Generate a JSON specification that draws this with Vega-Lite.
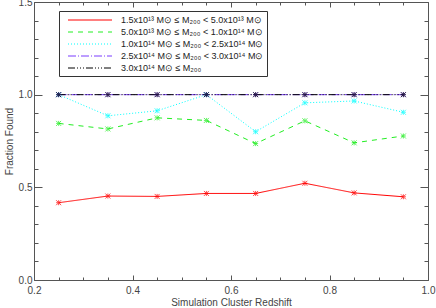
{
  "$schema": "https://vega.github.io/schema/vega-lite/v6.json",
  "width": 394,
  "height": 278,
  "autosize": "none",
  "padding": {"left": 34, "top": 2, "right": 8, "bottom": 28},
  "background": "white",
  "config": {
    "view": {"stroke": null},
    "font": "Liberation Sans",
    "axis": {
      "domainColor": "#555",
      "tickColor": "#555",
      "labelColor": "#444",
      "titleColor": "#444",
      "labelFont": "Liberation Sans",
      "titleFont": "Liberation Sans",
      "labelFontSize": 10,
      "titleFontSize": 10,
      "titleFontWeight": "normal",
      "grid": false
    }
  },
  "data": {
    "values": [
      {"z": 0.25, "frac": 0.417, "bin": "1.5x10¹³ M⊙ ≤ M₂₀₀ < 5.0x10¹³ M⊙"},
      {"z": 0.35, "frac": 0.453, "bin": "1.5x10¹³ M⊙ ≤ M₂₀₀ < 5.0x10¹³ M⊙"},
      {"z": 0.45, "frac": 0.451, "bin": "1.5x10¹³ M⊙ ≤ M₂₀₀ < 5.0x10¹³ M⊙"},
      {"z": 0.55, "frac": 0.467, "bin": "1.5x10¹³ M⊙ ≤ M₂₀₀ < 5.0x10¹³ M⊙"},
      {"z": 0.65, "frac": 0.467, "bin": "1.5x10¹³ M⊙ ≤ M₂₀₀ < 5.0x10¹³ M⊙"},
      {"z": 0.75, "frac": 0.522, "bin": "1.5x10¹³ M⊙ ≤ M₂₀₀ < 5.0x10¹³ M⊙"},
      {"z": 0.85, "frac": 0.47, "bin": "1.5x10¹³ M⊙ ≤ M₂₀₀ < 5.0x10¹³ M⊙"},
      {"z": 0.95, "frac": 0.449, "bin": "1.5x10¹³ M⊙ ≤ M₂₀₀ < 5.0x10¹³ M⊙"},
      {"z": 0.25, "frac": 0.845, "bin": "5.0x10¹³ M⊙ ≤ M₂₀₀ < 1.0x10¹⁴ M⊙"},
      {"z": 0.35, "frac": 0.815, "bin": "5.0x10¹³ M⊙ ≤ M₂₀₀ < 1.0x10¹⁴ M⊙"},
      {"z": 0.45, "frac": 0.875, "bin": "5.0x10¹³ M⊙ ≤ M₂₀₀ < 1.0x10¹⁴ M⊙"},
      {"z": 0.55, "frac": 0.861, "bin": "5.0x10¹³ M⊙ ≤ M₂₀₀ < 1.0x10¹⁴ M⊙"},
      {"z": 0.65, "frac": 0.736, "bin": "5.0x10¹³ M⊙ ≤ M₂₀₀ < 1.0x10¹⁴ M⊙"},
      {"z": 0.75, "frac": 0.859, "bin": "5.0x10¹³ M⊙ ≤ M₂₀₀ < 1.0x10¹⁴ M⊙"},
      {"z": 0.85, "frac": 0.74, "bin": "5.0x10¹³ M⊙ ≤ M₂₀₀ < 1.0x10¹⁴ M⊙"},
      {"z": 0.95, "frac": 0.777, "bin": "5.0x10¹³ M⊙ ≤ M₂₀₀ < 1.0x10¹⁴ M⊙"},
      {"z": 0.25, "frac": 1.0, "bin": "1.0x10¹⁴ M⊙ ≤ M₂₀₀ < 2.5x10¹⁴ M⊙"},
      {"z": 0.35, "frac": 0.886, "bin": "1.0x10¹⁴ M⊙ ≤ M₂₀₀ < 2.5x10¹⁴ M⊙"},
      {"z": 0.45, "frac": 0.913, "bin": "1.0x10¹⁴ M⊙ ≤ M₂₀₀ < 2.5x10¹⁴ M⊙"},
      {"z": 0.55, "frac": 1.0, "bin": "1.0x10¹⁴ M⊙ ≤ M₂₀₀ < 2.5x10¹⁴ M⊙"},
      {"z": 0.65, "frac": 0.8, "bin": "1.0x10¹⁴ M⊙ ≤ M₂₀₀ < 2.5x10¹⁴ M⊙"},
      {"z": 0.75, "frac": 0.956, "bin": "1.0x10¹⁴ M⊙ ≤ M₂₀₀ < 2.5x10¹⁴ M⊙"},
      {"z": 0.85, "frac": 0.966, "bin": "1.0x10¹⁴ M⊙ ≤ M₂₀₀ < 2.5x10¹⁴ M⊙"},
      {"z": 0.95, "frac": 0.905, "bin": "1.0x10¹⁴ M⊙ ≤ M₂₀₀ < 2.5x10¹⁴ M⊙"},
      {"z": 0.25, "frac": 1.0, "bin": "2.5x10¹⁴ M⊙ ≤ M₂₀₀ < 3.0x10¹⁴ M⊙"},
      {"z": 0.35, "frac": 1.0, "bin": "2.5x10¹⁴ M⊙ ≤ M₂₀₀ < 3.0x10¹⁴ M⊙"},
      {"z": 0.45, "frac": 1.0, "bin": "2.5x10¹⁴ M⊙ ≤ M₂₀₀ < 3.0x10¹⁴ M⊙"},
      {"z": 0.55, "frac": 1.0, "bin": "2.5x10¹⁴ M⊙ ≤ M₂₀₀ < 3.0x10¹⁴ M⊙"},
      {"z": 0.65, "frac": 1.0, "bin": "2.5x10¹⁴ M⊙ ≤ M₂₀₀ < 3.0x10¹⁴ M⊙"},
      {"z": 0.75, "frac": 1.0, "bin": "2.5x10¹⁴ M⊙ ≤ M₂₀₀ < 3.0x10¹⁴ M⊙"},
      {"z": 0.85, "frac": 1.0, "bin": "2.5x10¹⁴ M⊙ ≤ M₂₀₀ < 3.0x10¹⁴ M⊙"},
      {"z": 0.95, "frac": 1.0, "bin": "2.5x10¹⁴ M⊙ ≤ M₂₀₀ < 3.0x10¹⁴ M⊙"},
      {"z": 0.25, "frac": 1.0, "bin": "3.0x10¹⁴ M⊙ ≤ M₂₀₀"},
      {"z": 0.35, "frac": 1.0, "bin": "3.0x10¹⁴ M⊙ ≤ M₂₀₀"},
      {"z": 0.45, "frac": 1.0, "bin": "3.0x10¹⁴ M⊙ ≤ M₂₀₀"},
      {"z": 0.55, "frac": 1.0, "bin": "3.0x10¹⁴ M⊙ ≤ M₂₀₀"},
      {"z": 0.65, "frac": 1.0, "bin": "3.0x10¹⁴ M⊙ ≤ M₂₀₀"},
      {"z": 0.75, "frac": 1.0, "bin": "3.0x10¹⁴ M⊙ ≤ M₂₀₀"},
      {"z": 0.85, "frac": 1.0, "bin": "3.0x10¹⁴ M⊙ ≤ M₂₀₀"},
      {"z": 0.95, "frac": 1.0, "bin": "3.0x10¹⁴ M⊙ ≤ M₂₀₀"}
    ]
  },
  "layer": [
    {
      "mark": {"type": "line", "strokeWidth": 1},
      "encoding": {
        "x": {
          "field": "z", "type": "quantitative",
          "scale": {"domain": [0.2, 1.0], "nice": false, "zero": false},
          "axis": {
            "orient": "bottom",
            "title": "Simulation Cluster Redshift",
            "titlePadding": 2,
            "values": [0.2, 0.25, 0.3, 0.35, 0.4, 0.45, 0.5, 0.55, 0.6, 0.65, 0.7, 0.75, 0.8, 0.85, 0.9, 0.95, 1.0],
            "labelExpr": "abs(datum.value*5 - round(datum.value*5)) < 0.001 ? format(datum.value, '.1f') : ''",
            "tickSize": {"condition": {"test": "abs(datum.value*5 - round(datum.value*5)) < 0.001", "value": -5}, "value": -3},
            "labelPadding": 10,
            "labelFlush": false
          }
        },
        "y": {
          "field": "frac", "type": "quantitative",
          "scale": {"domain": [0, 1.5], "nice": false},
          "axis": {
            "orient": "left",
            "title": "Fraction Found",
            "titlePadding": 4,
            "values": [0, 0.1, 0.2, 0.3, 0.4, 0.5, 0.6, 0.7, 0.8, 0.9, 1.0, 1.1, 1.2, 1.3, 1.4, 1.5],
            "labelExpr": "abs(datum.value*2 - round(datum.value*2)) < 0.001 ? format(datum.value, '.1f') : ''",
            "tickSize": {"condition": {"test": "abs(datum.value*2 - round(datum.value*2)) < 0.001", "value": -8}, "value": -4},
            "labelPadding": 10
          }
        },
        "color": {
          "field": "bin", "type": "nominal",
          "scale": {
            "domain": ["1.5x10¹³ M⊙ ≤ M₂₀₀ < 5.0x10¹³ M⊙", "5.0x10¹³ M⊙ ≤ M₂₀₀ < 1.0x10¹⁴ M⊙", "1.0x10¹⁴ M⊙ ≤ M₂₀₀ < 2.5x10¹⁴ M⊙", "2.5x10¹⁴ M⊙ ≤ M₂₀₀ < 3.0x10¹⁴ M⊙", "3.0x10¹⁴ M⊙ ≤ M₂₀₀"],
            "range": ["#ff0000", "#22ee22", "#00ffff", "#7a3cff", "#000000"]
          },
          "legend": {
            "title": null,
            "orient": "none",
            "legendX": 25,
            "legendY": 9,
            "symbolType": "M-4,0L4,0",
            "symbolSize": 121,
            "symbolStrokeWidth": 1,
            "symbolOffset": 22,
            "labelOffset": 25,
            "labelFontSize": 9,
            "labelColor": "#222",
            "labelFont": "Liberation Sans",
            "rowPadding": 1,
            "padding": 3,
            "strokeColor": "#333",
            "fillColor": "white",
            "cornerRadius": 0
          }
        },
        "strokeDash": {
          "field": "bin", "type": "nominal",
          "scale": {
            "domain": ["1.5x10¹³ M⊙ ≤ M₂₀₀ < 5.0x10¹³ M⊙", "5.0x10¹³ M⊙ ≤ M₂₀₀ < 1.0x10¹⁴ M⊙", "1.0x10¹⁴ M⊙ ≤ M₂₀₀ < 2.5x10¹⁴ M⊙", "2.5x10¹⁴ M⊙ ≤ M₂₀₀ < 3.0x10¹⁴ M⊙", "3.0x10¹⁴ M⊙ ≤ M₂₀₀"],
            "range": [[1, 0], [5, 5], [1, 2], [8, 2, 1, 2], [7, 2, 1, 2, 1, 2, 1, 2]]
          },
          "legend": {
            "title": null,
            "orient": "none",
            "legendX": 25,
            "legendY": 9,
            "symbolType": "M-4,0L4,0",
            "symbolSize": 121,
            "symbolStrokeWidth": 1,
            "symbolOffset": 22,
            "labelOffset": 25,
            "labelFontSize": 9,
            "labelColor": "#222",
            "labelFont": "Liberation Sans",
            "rowPadding": 1,
            "padding": 3,
            "strokeColor": "#333",
            "fillColor": "white",
            "cornerRadius": 0
          }
        }
      }
    },
    {
      "mark": {"type": "point", "filled": false, "strokeWidth": 1, "size": 25, "shape": "M-1,0L1,0M0,-1L0,1M-1,-1L1,1M-1,1L1,-1"},
      "encoding": {
        "x": {
          "field": "z", "type": "quantitative",
          "axis": {
            "orient": "top",
            "title": null,
            "values": [0.2, 0.25, 0.3, 0.35, 0.4, 0.45, 0.5, 0.55, 0.6, 0.65, 0.7, 0.75, 0.8, 0.85, 0.9, 0.95, 1.0],
            "labels": false,
            "tickSize": {"condition": {"test": "abs(datum.value*5 - round(datum.value*5)) < 0.001", "value": -5}, "value": -3}
          }
        },
        "y": {
          "field": "frac", "type": "quantitative",
          "axis": {
            "orient": "right",
            "title": null,
            "values": [0, 0.1, 0.2, 0.3, 0.4, 0.5, 0.6, 0.7, 0.8, 0.9, 1.0, 1.1, 1.2, 1.3, 1.4, 1.5],
            "labels": false,
            "tickSize": {"condition": {"test": "abs(datum.value*2 - round(datum.value*2)) < 0.001", "value": -8}, "value": -4}
          }
        },
        "stroke": {
          "field": "bin", "type": "nominal",
          "scale": {
            "domain": ["1.5x10¹³ M⊙ ≤ M₂₀₀ < 5.0x10¹³ M⊙", "5.0x10¹³ M⊙ ≤ M₂₀₀ < 1.0x10¹⁴ M⊙", "1.0x10¹⁴ M⊙ ≤ M₂₀₀ < 2.5x10¹⁴ M⊙", "2.5x10¹⁴ M⊙ ≤ M₂₀₀ < 3.0x10¹⁴ M⊙", "3.0x10¹⁴ M⊙ ≤ M₂₀₀"],
            "range": ["#ff0000", "#22ee22", "#00ffff", "#7a3cff", "#000000"]
          },
          "legend": null
        }
      }
    }
  ],
  "resolve": {"axis": {"x": "independent", "y": "independent"}}
}
